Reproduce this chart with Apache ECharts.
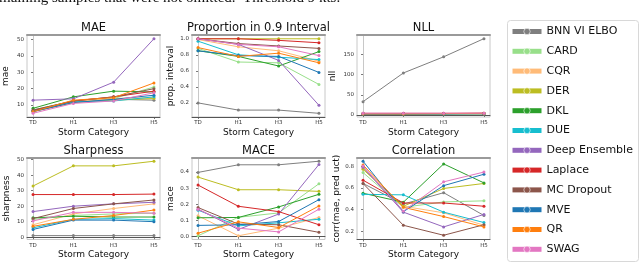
<!DOCTYPE html>
<html><head><meta charset="utf-8">
<script src="https://cdn.jsdelivr.net/npm/echarts@6/dist/echarts.min.js"></script>
<style>html,body{margin:0;padding:0;background:#fff}#c{width:640px;height:263px}</style>
</head><body><div id="c"></div>
<script>
const categories = ['TD', 'H1', 'H3', 'H5'];
const models = ['BNN VI ELBO', 'CARD', 'CQR', 'DER', 'DKL', 'DUE', 'Deep Ensemble', 'Laplace', 'MC Dropout', 'MVE', 'QR', 'SWAG'];
const colors = ['#7f7f7f', '#98df8a', '#ffbb78', '#bcbd22', '#2ca02c', '#17becf', '#9467bd', '#d62728', '#8c564b', '#1f77b4', '#ff7f0e', '#e377c2'];

// rows follow the order of `models`
const mae = [
  [6.5, 12, 13.5, 13],
  [7, 12.5, 14, 21],
  [6, 12, 14, 14.5],
  [6, 11.5, 13, 14],
  [8, 15, 18.5, 18],
  [6.5, 12, 12.5, 15],
  [13, 13.8, 24, 50.5],
  [6.5, 12.5, 15, 18.5],
  [7, 12.5, 15, 20],
  [6, 11.5, 13.5, 16],
  [6, 13, 14.5, 23.5],
  [5, 11, 12.5, 17.5]
];
const prop = [
  [0.20, 0.11, 0.11, 0.07],
  [0.88, 0.71, 0.70, 0.43],
  [0.99, 0.90, 0.85, 0.72],
  [1.0, 1.0, 1.0, 1.0],
  [0.85, 0.78, 0.66, 0.84],
  [0.97, 0.80, 0.77, 0.74],
  [1.0, 0.93, 0.73, 0.17],
  [1.0, 1.0, 0.98, 0.95],
  [1.0, 0.94, 0.91, 0.88],
  [0.85, 0.79, 0.78, 0.58],
  [0.89, 0.78, 0.82, 0.70],
  [1.0, 0.93, 0.90, 0.79]
];
const nll = [
  [33, 104, 144, 189],
  [3, 3, 3, 3.5],
  [3, 3, 3, 3],
  [2.5, 2.5, 3, 3],
  [3, 3, 3, 3.5],
  [3, 3, 3, 3],
  [3, 3.5, 3.5, 4],
  [4, 4, 4, 4.5],
  [3, 3, 3.5, 3.5],
  [3, 3, 3, 3.5],
  [3, 3, 3.5, 4],
  [4.5, 4.5, 4.5, 4.5]
];
const sharp = [
  [1, 1, 1, 1],
  [11.5, 14, 15, 15.5],
  [8, 15, 18.5, 21.5],
  [33, 46, 46, 49],
  [12.5, 13.5, 13, 13],
  [6, 11.5, 12, 11],
  [16.5, 20, 21.5, 22.5],
  [27.5, 27.5, 27.5, 27.8],
  [12, 18.5, 21.5, 24],
  [5, 11, 11, 10],
  [7, 11.5, 14, 17.5],
  [10.5, 16, 16, 15.5]
];
const mace = [
  [0.397, 0.444, 0.444, 0.466],
  [0.006, 0.12, 0.147, 0.327],
  [0.129, 0.006, 0.053, 0.119],
  [0.368, 0.29, 0.29, 0.28],
  [0.117, 0.119, 0.184, 0.262],
  [0.164, 0.067, 0.086, 0.108],
  [0.17, 0.045, 0.14, 0.446],
  [0.319, 0.188, 0.155, 0.074],
  [0.18, 0.078, 0.074, 0.027],
  [0.07, 0.074, 0.094, 0.229],
  [0.022, 0.092, 0.057, 0.19],
  [0.17, 0.053, 0.03, 0.17]
];
const corr = [
  [0.64, 0.45, 0.555, 0.345],
  [0.74, 0.42, 0.47, 0.48],
  [0.78, 0.43, 0.37, 0.255],
  [0.77, 0.43, 0.594, 0.64],
  [0.55, 0.467, 0.82, 0.645],
  [0.54, 0.535, 0.376, 0.28],
  [0.79, 0.376, 0.24, 0.355],
  [0.67, 0.46, 0.46, 0.43],
  [0.64, 0.255, 0.163, 0.26],
  [0.845, 0.38, 0.62, 0.725],
  [0.81, 0.42, 0.335, 0.24],
  [0.80, 0.385, 0.655, 0.745]
];
const maeTicks = [10, 20, 30, 40, 50];
const propTicks = [0.2, 0.4, 0.6, 0.8, 1.0];
const nllTicks = [0, 50, 100, 150];
const sharpTicks = [0, 10, 20, 30, 40, 50];
const maceTicks = [0, 0.1, 0.2, 0.3, 0.4];
const corrTicks = [0.2, 0.4, 0.6, 0.8];

const FONT = 'DejaVu Sans';
const colX = [27, 192, 357];
const rowY = [35, 157.5];
const W = 133, H = 82;

const panels = [
  {title: 'MAE', yName: 'mae', data: mae, min: 2.7, max: 52.8, ticks: maeTicks, dec: 0, gap: 17},
  {title: 'Proportion in 0.9 Interval', yName: 'prop. interval', data: prop, min: 0.024, max: 1.047, ticks: propTicks, dec: 1, gap: 17},
  {title: 'NLL', yName: 'nll', data: nll, min: -5, max: 198, ticks: nllTicks, dec: 0, gap: 20},
  {title: 'Sharpness', yName: 'sharpness', data: sharp, min: -1.5, max: 51.4, ticks: sharpTicks, dec: 0, gap: 16},
  {title: 'MACE', yName: 'mace', data: mace, min: -0.017, max: 0.489, ticks: maceTicks, dec: 1, gap: 17},
  {title: 'Correlation', yName: 'corr(mae, pred uct)', data: corr, min: 0.124, max: 0.879, ticks: corrTicks, dec: 1, gap: 16}
];

const grid = [], xAxis = [], yAxis = [], title = [], series = [];
panels.forEach((p, i) => {
  const left = colX[i % 3], top = rowY[Math.floor(i / 3)];
  grid.push({left: left, top: top, width: W, height: H, show: true, borderColor: '#c8c8c8', borderWidth: 1});
  title.push({text: p.title, left: left + W / 2, top: top - 12.5, textAlign: 'center', padding: 0,
    textStyle: {fontFamily: FONT, fontSize: 11.5, fontWeight: 'normal', color: '#111'}});
  xAxis.push({type: 'value', gridIndex: i, min: -0.15, max: 3.15,
    axisLine: {show: true, lineStyle: {color: '#555', width: 1}},
    axisTick: {show: true, customValues: [0, 1, 2, 3], length: 2, lineStyle: {color: '#555', width: 0.8}},
    axisLabel: {customValues: [0, 1, 2, 3], formatter: v => categories[Math.round(v)], fontSize: 5.5, fontFamily: FONT, color: '#333', margin: 3},
    splitLine: {show: false},
    name: 'Storm Category', nameLocation: 'middle', nameGap: 11,
    nameTextStyle: {fontFamily: FONT, fontSize: 9, color: '#111'}});
  yAxis.push({type: 'value', gridIndex: i, min: p.min, max: p.max,
    axisLine: {show: true, lineStyle: {color: '#c8c8c8', width: 1}},
    axisTick: {show: true, customValues: p.ticks, length: 2, lineStyle: {color: '#555', width: 0.8}},
    axisLabel: {customValues: p.ticks, formatter: v => v.toFixed(p.dec), fontSize: 5.5, fontFamily: FONT, color: '#333', margin: 3},
    splitLine: {show: false},
    name: p.yName, nameLocation: 'middle', nameGap: p.gap,
    nameTextStyle: {fontFamily: FONT, fontSize: 9, color: '#111'}});
  p.data.forEach((row, m) => {
    series.push({type: 'line', name: models[m], xAxisIndex: i, yAxisIndex: i,
      data: row.map((v, k) => [k, v]), symbol: 'circle', symbolSize: 3,
      lineStyle: {width: 1, color: colors[m]}, itemStyle: {color: colors[m]},
      emphasis: {disabled: true}, silent: true});
  });
});
panels.forEach((p, i) => {
  xAxis.push({type: 'value', gridIndex: i, position: 'top', min: -0.15, max: 3.15,
    axisLine: {show: true, lineStyle: {color: '#9a9a9a', width: 2}}, axisTick: {show: false},
    axisLabel: {show: false}, splitLine: {show: false}});
});

const chart = echarts.init(document.getElementById('c'), null, {renderer: 'canvas'});
chart.setOption({
  animation: false,
  backgroundColor: '#fff',
  title: title,
  grid: grid, xAxis: xAxis, yAxis: yAxis, series: series,
  legend: {data: models, orient: 'vertical', left: 510, top: 26, padding: 0,
    itemWidth: 29, itemHeight: 8, itemGap: 8.8, selectedMode: false,
    lineStyle: {width: 5}, itemStyle: {borderColor: '#fff', borderWidth: 0.6},
    textStyle: {fontFamily: FONT, fontSize: 11, color: '#111'}},
  graphic: [
    {type: 'rect', z: -1, shape: {x: 507.5, y: 20.5, width: 131, height: 241, r: 3},
      style: {fill: '#fff', stroke: '#d8d8d8', lineWidth: 1}},
    {type: 'text', x: -1, y: 5.5, style: {text: 'maining samples that were not omitted.  Threshold 9 kts.',
      font: '15px "Liberation Serif"', fill: '#111', verticalAlign: 'bottom'}}
  ],
  color: colors
});
</script></body></html>
